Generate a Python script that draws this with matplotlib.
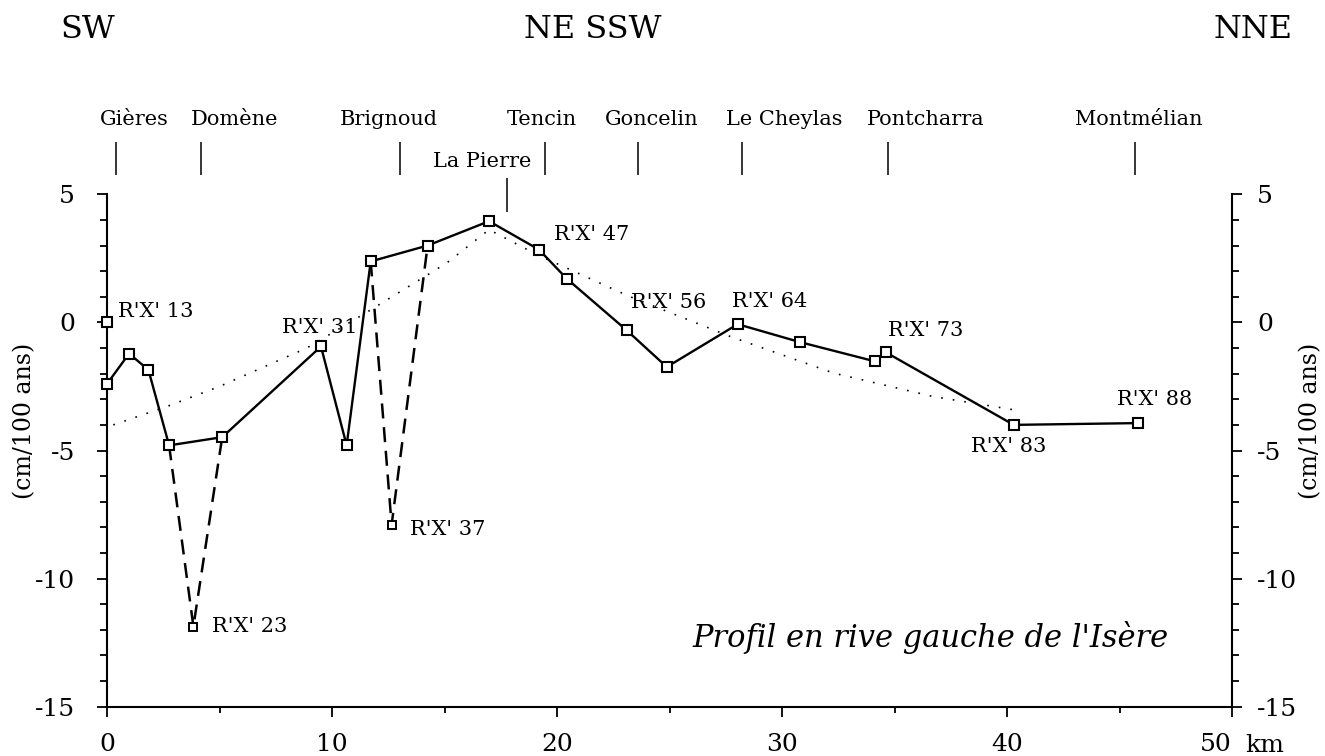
import matplotlib
matplotlib.use("Agg")
import matplotlib.pyplot as plt
from matplotlib.ticker import MultipleLocator

plt.rcParams['font.family'] = 'DejaVu Serif'
plt.rcParams['axes.unicode_minus'] = False

# --- data ---
# levelling points joined by the solid line (km, cm/100 ans)
dist_km = [0.0, 0.98, 1.84, 2.76, 5.12, 9.51, 10.65, 11.72, 14.25, 16.98,
           19.2, 20.43, 23.1, 24.88, 28.03, 30.8, 34.13, 34.6, 40.3, 45.84]
rate = [-2.4, -1.22, -1.85, -4.8, -4.48, -0.94, -4.8, 2.38, 3.0, 3.95,
        2.84, 1.71, -0.31, -1.74, -0.07, -0.77, -1.52, -1.16, -4.0, -3.93]

# the two anomalous benchmarks, joined with dashes
dip1_x = [2.76, 3.84, 5.12]
dip1_y = [-4.8, -11.87, -4.48]
dip2_x = [11.72, 12.65, 14.25]
dip2_y = [2.38, -7.9, 3.0]

# isolated benchmark R'X' 13
single_x = [0.0]
single_y = [0.0]

# smoothed trend (dotted)
trend_x = [0.28, 2.7, 5.0, 8.88, 11.5, 15.1, 16.98, 19.1, 23.2, 27.7, 32.3, 36.7, 40.5]
trend_y = [-4.0, -3.27, -2.5, -1.0, 0.37, 2.32, 3.62, 2.65, 1.02, -0.55, -1.98, -2.89, -3.44]

# benchmark names and where their labels sit
bench_names = ["R'X' 13", "R'X' 23", "R'X' 31", "R'X' 37", "R'X' 47",
               "R'X' 56", "R'X' 64", "R'X' 73", "R'X' 83", "R'X' 88"]
bench_lab_x = [0.5, 4.67, 7.8, 13.46, 19.87, 23.3, 27.8, 34.7, 38.4, 44.9]
bench_lab_y = [0.42, -11.86, -0.2, -8.1, 3.43, 0.77, 0.82, -0.31, -4.84, -3.02]

# towns along the profile
towns = ['Gières', 'Domène', 'Brignoud', 'La Pierre', 'Tencin', 'Goncelin',
         'Le Cheylas', 'Pontcharra', 'Montmélian']
town_km = [0.39, 4.18, 13.02, 17.78, 19.47, 23.6, 28.22, 34.69, 45.69]
town_lab_x = [1.22, 5.67, 12.53, 16.69, 19.33, 24.22, 30.11, 36.38, 45.84]

fig = plt.figure(figsize=(13.25, 7.56), dpi=100)
ax = fig.add_axes([107 / 1325, 1 - 706.7 / 756, 1125 / 1325, 512.4 / 756])

ax.set_xlim(0, 50)
ax.set_ylim(-15, 5)

ax.plot(trend_x, trend_y, color='black', lw=1.2, linestyle=(0, (1, 6)))
ax.plot(dip1_x, dip1_y, color='black', lw=1.8, linestyle=(0, (6, 3.5)),
        marker='s', ms=6, mfc='white', mec='black', mew=1.4)
ax.plot(dip2_x, dip2_y, color='black', lw=1.8, linestyle=(0, (6, 3.5)),
        marker='s', ms=6, mfc='white', mec='black', mew=1.4)
ax.plot(dist_km, rate, color='black', lw=1.7, marker='s', ms=7,
        mfc='white', mec='black', mew=1.5, clip_on=False, zorder=3)
ax.plot(single_x, single_y, linestyle='none', marker='s', ms=7,
        mfc='white', mec='black', mew=1.5, clip_on=False, zorder=3)

for name, lx, ly in zip(bench_names, bench_lab_x, bench_lab_y):
    ax.text(lx, ly, name, fontsize=15, ha='left', va='center')

# town markers above the frame
for name, tk, lx in zip(towns, town_km, town_lab_x):
    if name == 'La Pierre':
        ax.vlines(tk, 4.32, 5.65, color='black', lw=1.1, clip_on=False)
        ax.text(lx, 6.27, name, fontsize=15, ha='center', va='center')
    else:
        ax.vlines(tk, 5.77, 7.06, color='black', lw=1.1, clip_on=False)
        ax.text(lx, 7.91, name, fontsize=15, ha='center', va='center')

ax.text(36.6, -12.28, "Profil en rive gauche de l'Isère", fontsize=22,
        style='italic', ha='center', va='center')

# axes styling
ax.spines['top'].set_visible(False)
ax.spines['right'].set_visible(False)
for s in ['left', 'bottom']:
    ax.spines[s].set_linewidth(1.5)

ax.set_xticks([0, 10, 20, 30, 40, 50], labels=['0', '10', '20', '30', '40', '50'])
ax.xaxis.set_minor_locator(MultipleLocator(5))
ax.yaxis.set_major_locator(MultipleLocator(5))
ax.yaxis.set_minor_locator(MultipleLocator(1))
ax.tick_params(axis='x', which='major', length=7, width=1.3, pad=12, labelsize=18)
ax.tick_params(axis='x', which='minor', length=4, width=1.3)
ax.tick_params(axis='y', which='major', length=7, width=1.3, pad=16, labelsize=18)
ax.tick_params(axis='y', which='minor', length=5, width=1.3)
# "50" sits flush left of its tick, followed by "km"
ax.xaxis.get_major_ticks()[-1].label1.set_horizontalalignment('right')

ax2 = ax.twinx()
ax2.set_ylim(-15, 5)
ax2.spines['top'].set_visible(False)
ax2.spines['left'].set_visible(False)
ax2.spines['bottom'].set_visible(False)
ax2.spines['right'].set_linewidth(1.5)
ax2.yaxis.set_major_locator(MultipleLocator(5))
ax2.yaxis.set_minor_locator(MultipleLocator(1))
ax2.tick_params(axis='y', which='major', length=7, width=1.3, pad=11, labelsize=18)
ax2.tick_params(axis='y', which='minor', length=5, width=1.3)

fig.text(25 / 1325, 1 - 421 / 756, '(cm/100 ans)', rotation=90, fontsize=17,
         ha='center', va='center')
fig.text(1311 / 1325, 1 - 421 / 756, '(cm/100 ans)', rotation=90, fontsize=17,
         ha='center', va='center')
fig.text(1245 / 1325, 1 - 746 / 756, 'km', fontsize=18, ha='left', va='center')

# orientation headers
fig.text(87.5 / 1325, 1 - 30 / 756, 'SW', fontsize=23, ha='center', va='center')
fig.text(593 / 1325, 1 - 30 / 756, 'NE SSW', fontsize=23, ha='center', va='center')
fig.text(1253 / 1325, 1 - 30 / 756, 'NNE', fontsize=23, ha='center', va='center')

fig.savefig('out.png', dpi=100, facecolor='white')
